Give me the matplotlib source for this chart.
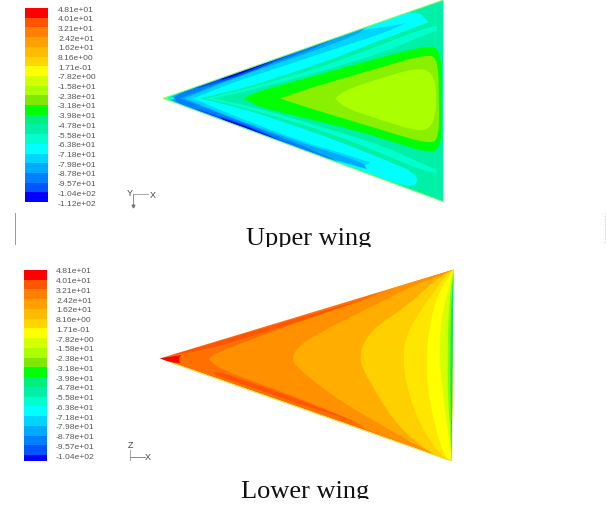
import matplotlib
matplotlib.use('Agg')
import matplotlib.pyplot as plt
import numpy as np
from matplotlib.patches import PathPatch
from matplotlib.path import Path

W, H = 606, 506

# Contour levels shown on the two legends
upper_levels = ['4.81e+01', '4.01e+01', '3.21e+01', '2.42e+01', '1.62e+01', '8.16e+00', '1.71e-01',
                '-7.82e+00', '-1.58e+01', '-2.38e+01', '-3.18e+01', '-3.98e+01', '-4.78e+01', '-5.58e+01',
                '-6.38e+01', '-7.18e+01', '-7.98e+01', '-8.78e+01', '-9.57e+01', '-1.04e+02', '-1.12e+02']
lower_levels = upper_levels[:-1]
band_colors = ['#ff0000', '#ff5500', '#ff8000', '#ffa000', '#ffbb00', '#ffd500', '#ffff00', '#d5ff00', '#aaff00', '#80e800',
               '#00ff00', '#00f080', '#00f0a8', '#00ffcc', '#00ffff', '#00d5ff', '#00aaff', '#0080ff', '#0055ff', '#0000ff']

# Upper wing contour regions, painted outermost first
upper_regions = [
    ('#00f0a8', [(40, 298), (880, 3), (880, 608)]),
    ('#00ffff', [(45, 298), (800, 30), (835, 70), (700, 120), (520, 190), (300, 262), (150, 298), (300, 335),
                 (520, 410), (700, 480), (810, 528), (790, 572)]),
    ('#00d5ff', [(55, 293), (300, 208), (500, 138), (620, 94), (700, 85), (770, 72), (700, 102), (600, 135), (450, 185),
                 (250, 250), (130, 298), (250, 350), (450, 425), (600, 470), (660, 490), (640, 505), (500, 467), (300, 393), (55, 304)]),
    ('#00aaff', [(62, 291), (300, 208), (500, 138), (650, 84), (620, 108), (480, 160), (260, 235), (105, 298),
                 (260, 362), (480, 440), (640, 490), (650, 510), (500, 467), (300, 393), (62, 307)]),
    ('#0080ff', [(70, 289), (300, 208), (470, 148), (560, 116), (470, 158), (300, 217), (90, 298),
                 (300, 378), (470, 445), (570, 490), (470, 457), (300, 392), (70, 309)]),
    ('#0055ff', [(130, 268), (300, 208), (430, 162), (300, 222), (160, 265)]),
    ('#0055ff', [(130, 330), (300, 392), (430, 442), (300, 380), (160, 335)]),
    ('#0000e0', [(210, 240), (300, 209), (375, 182), (300, 214), (220, 243)]),
    ('#0000e0', [(210, 360), (300, 391), (385, 423), (300, 386), (220, 357)]),
    ('#00ffcc', [(165, 298), (300, 268), (520, 202), (700, 135), (810, 92), (860, 80), (860, 522), (810, 512), (700, 465), (520, 395), (300, 330)]),
    ('#00f0a8', [(190, 298), (320, 270), (520, 215), (700, 160), (830, 105), (880, 90), (880, 520), (830, 500), (700, 440), (520, 385), (320, 326)]),
    ('#00ff00', [(280, 298), (330, 275), (620, 195), (840, 137), (875, 160), (875, 440), (845, 465), (620, 395), (330, 325)]),
    ('#88f000', [(390, 298), (470, 270), (830, 165), (865, 180), (868, 420), (835, 435), (470, 325)]),
    ('#aaff00', [(555, 298), (590, 270), (800, 205), (850, 220), (862, 300), (850, 380), (810, 400), (590, 330)]),
    ('#00ffcc', [(45, 296), (62, 291), (75, 298), (62, 305)]),
    ('#80ff40', [(40, 298), (58, 291), (52, 298), (58, 305)]),
]
upper_edges = [('#80ff60', [(40, 298), (880, 3)]), ('#80ff60', [(40, 298), (880, 608)]), ('#90ffe8', [(880, 3), (880, 608)])]

# Lower wing contour regions
lower_regions = [
    ('#ff7000', [(30, 298), (910, 32), (905, 605)]),
    ('#ff5500', [(60, 290), (400, 190), (670, 113), (400, 202), (180, 270)]),
    ('#ff5500', [(190, 345), (420, 425), (635, 495), (420, 412), (200, 335)]),
    ('#ff9000', [(175, 300), (200, 280), (430, 195), (670, 113), (690, 99), (910, 32), (905, 605), (640, 510), (635, 495),
                 (440, 415), (210, 330)]),
    ('#ffae00', [(425, 298), (445, 260), (520, 215), (800, 75), (865, 52), (910, 32), (905, 605), (850, 585), (775, 545),
                 (560, 420), (440, 325)]),
    ('#ffd000', [(630, 298), (640, 250), (680, 200), (760, 150), (865, 55), (910, 32), (905, 605), (850, 590), (740, 500),
                 (660, 370), (635, 320)]),
    ('#ffe600', [(760, 298), (765, 240), (800, 170), (880, 60), (910, 32), (905, 605), (870, 590), (800, 480), (765, 360)]),
    ('#ffff00', [(830, 298), (835, 220), (860, 110), (910, 32), (905, 605), (880, 590), (840, 440), (832, 360)]),
    ('#d5ff00', [(868, 298), (872, 180), (910, 32), (905, 605), (878, 400)]),
    ('#80ff00', [(893, 298), (895, 150), (910, 32), (905, 605), (893, 400)]),
    ('#00e870', [(901, 298), (903, 150), (910, 40), (905, 600), (901, 400)]),
    ('#ff0000', [(30, 298), (95, 288), (85, 298), (90, 312), (60, 310)]),
]
lower_edges = [('#c8f040', [(60, 310), (880, 598)]), ('#ffd040', [(880, 598), (905, 605)])]


def pixel_axes(x0, y0, x1, y1):
    return fig.add_axes([x0 / W, 1 - y1 / H, (x1 - x0) / W, (y1 - y0) / H])


def region_path(points, radius=70):
    # obtuse corners are drawn as curves, acute tips stay sharp
    pts = np.array(points, dtype=float)
    n = len(pts)
    verts, codes = [], []
    for i in range(n):
        p, a, b = pts[i], pts[i - 1], pts[(i + 1) % n]
        da, db = a - p, b - p
        la, lb = np.hypot(*da), np.hypot(*db)
        if np.dot(da, db) / (la * lb) > 0.15:
            seg = [(p, Path.LINETO)]
        else:
            ra, rb = min(radius, la / 2), min(radius, lb / 2)
            seg = [(p + da / la * ra, Path.LINETO), (p, Path.CURVE3), (p + db / lb * rb, Path.CURVE3)]
        for v, c in seg:
            verts.append(v)
            codes.append(c)
    codes[0] = Path.MOVETO
    verts.append(verts[0])
    codes.append(Path.CLOSEPOLY)
    return Path(verts, codes)


def draw_wing(box, regions, edges):
    ax = pixel_axes(*box)
    ax.set_xlim(0, (box[2] - box[0]) * 3)
    ax.set_ylim((box[3] - box[1]) * 3, 0)
    ax.axis('off')
    for color, points in regions:
        ax.add_patch(PathPatch(region_path(points), facecolor=color, edgecolor='none'))
    for color, points in edges:
        xs, ys = zip(*points)
        ax.plot(xs, ys, color=color, lw=0.7)


def draw_legend(box, labels, n_visible, pad):
    ax = pixel_axes(*box)
    ax.bar(0, [1] * len(band_colors), bottom=range(len(band_colors)), width=1, color=band_colors, align='edge')
    ax.set_xlim(0, 1)
    ax.set_ylim(n_visible, 0)
    ax.set_xticks([])
    ax.yaxis.tick_right()
    ax.set_yticks(range(len(labels)))
    ax.set_yticklabels(labels, fontsize=6.1, color='#555555', family='Liberation Sans')
    ax.tick_params(axis='y', length=0, pad=pad)
    for s in ax.spines.values():
        s.set_visible(False)


fig = plt.figure(figsize=(W / 100, H / 100), dpi=100)

draw_wing((150, 0, 480, 215), upper_regions, upper_edges)
draw_wing((150, 260, 480, 475), lower_regions, lower_edges)
draw_legend((25, 9, 47.5, 203), upper_levels, 19.9, 7.6)
draw_legend((24.5, 271, 46.5, 462), lower_levels, 19.6, 6.9)

# Captions, axis triads and scan marks, all in picture pixels
over = fig.add_axes([0, 0, 1, 1], zorder=5)
over.set_xlim(0, W)
over.set_ylim(H, 0)
over.axis('off')
over.patch.set_alpha(0)

over.text(308.5, 245.5, 'Upper wing', family='Liberation Serif', fontsize=19, color='#111111', ha='center', va='baseline', zorder=2)
over.text(305.5, 498, 'Lower wing', family='Liberation Serif', fontsize=19, color='#111111', ha='center', va='baseline', zorder=2)
over.fill_between([230, 390], 248, 262, color='white', lw=0, zorder=3)
over.fill_between([230, 390], 500, 506, color='white', lw=0, zorder=3)

for x, y, s in [(130, 193, 'Y'), (153, 195, 'X'), (131, 446, 'Z'), (148, 458, 'X')]:
    over.text(x, y, s, family='Liberation Sans', fontsize=6.5, color='#444444', ha='center', va='center')
over.plot([133, 133], [195, 208], color='#777777', lw=0.6)
over.plot([133], [207], marker='v', ms=2, color='#777777')
over.plot([133, 148], [195, 195], color='#999999', lw=0.6)
over.plot([130, 130], [451, 461], color='#999999', lw=0.6)
over.plot([130, 145], [458, 458], color='#777777', lw=0.6)
over.plot([14.5, 14.5], [214, 245], color='#999999', lw=0.7)
over.plot([605, 605], [214, 245], color='#cccccc', lw=0.7, ls=':')

fig.savefig('out.png', dpi=100)
